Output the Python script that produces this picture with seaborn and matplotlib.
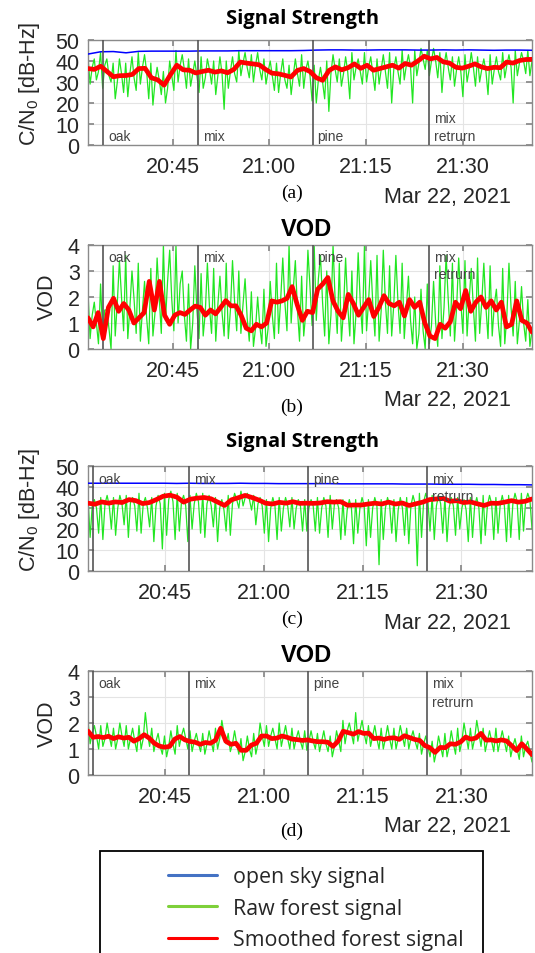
import numpy as np
import pandas as pd
import matplotlib
matplotlib.use("Agg")
import matplotlib.pyplot as plt
import matplotlib.dates as mdates
import matplotlib.transforms as mtransforms
from matplotlib.lines import Line2D
from matplotlib.patches import Rectangle
import seaborn as sns

# ---------------- data ----------------
day = "2021-03-22 "
range_ab = (day + "20:31:54", day + "21:40:42")
range_cd = (day + "20:33:20", day + "21:40:42")
segments_ab = [day + "20:34:18", day + "20:48:54", day + "21:06:42", day + "21:24:48"]
segments_cd = [day + "20:34:06", day + "20:48:42", day + "21:06:42", day + "21:24:42"]
segment_names = ["oak", "mix", "pine", "mix\nretrurn"]
xtick_times = [day + "20:45", day + "21:00", day + "21:15", day + "21:30"]
xtick_labels = ["20:45", "21:00", "21:15", "21:30"]
cn0_ticks = [0, 10, 20, 30, 40, 50]
vod_ticks = [0, 1, 2, 3, 4]

# (a) signal strength, first run
open_a = [43.3, 44.4, 44.5, 43.9, 44.6, 44.7, 44.7, 44.7, 44.7, 44.8, 44.8, 44.8,
          44.9, 44.9, 44.9, 44.9, 44.9, 45.0, 45.2, 45.3, 45.3, 45.2, 45.2, 45.3,
          45.3, 45.3, 45.2, 45.2, 45.3, 45.2, 45.3, 45.2, 45.1, 45.2, 45.2, 45.1]
raw_a = [42, 29, 37, 41, 31, 35, 44, 27, 38, 41, 33, 30, 39, 22, 30, 41, 34, 25,
         39, 23, 34, 42, 32, 26, 44, 29, 37, 43, 35, 22, 39, 19, 30, 37, 31, 24,
         35, 20, 27, 40, 33, 26, 45, 30, 38, 43, 36, 27, 41, 28, 34, 40, 33, 25,
         42, 27, 32, 41, 36, 29, 40, 24, 33, 42, 34, 17, 40, 27, 35, 42, 34, 30,
         45, 33, 39, 44, 37, 32, 43, 30, 38, 44, 36, 31, 41, 29, 35, 40, 33, 26,
         39, 25, 34, 41, 31, 27, 38, 24, 33, 41, 34, 28, 43, 27, 36, 40, 33, 21,
         38, 20, 31, 37, 30, 22, 40, 16, 34, 43, 36, 30, 41, 28, 34, 42, 35, 22,
         44, 31, 37, 41, 35, 29, 44, 30, 37, 42, 34, 26, 41, 29, 36, 43, 35, 27,
         44, 20, 36, 42, 35, 29, 45, 31, 38, 43, 37, 20, 45, 33, 39, 46, 41, 36,
         45, 33, 40, 46, 40, 32, 44, 25, 38, 44, 37, 31, 42, 28, 36, 42, 35, 23,
         43, 30, 36, 44, 37, 28, 42, 30, 36, 41, 35, 24, 43, 29, 36, 42, 35, 31,
         44, 32, 38, 43, 37, 20, 45, 33, 39, 44, 40, 34, 45, 33, 40]
smooth_a = [36.4, 36.0, 37.5, 35.0, 32.5, 33.0, 33.1, 33.6, 36.4, 36.5, 32.0, 31.0,
            28.5, 33.5, 38.0, 35.8, 35.6, 34.3, 35.0, 35.6, 34.7, 35.3, 34.4, 36.0,
            39.5, 39.0, 38.6, 38.2, 36.0, 34.2, 33.9, 33.2, 32.4, 35.5, 36.4, 35.0,
            32.0, 30.8, 35.5, 37.2, 35.8, 36.8, 38.6, 36.5, 38.0, 35.6, 36.4, 37.2,
            38.0, 36.6, 38.8, 38.0, 40.0, 42.3, 41.0, 41.7, 39.6, 39.0, 37.0, 36.6,
            37.5, 38.6, 37.2, 36.4, 37.0, 36.8, 39.5, 39.0, 40.2, 40.7, 40.8]

# (b) VOD, first run
raw_b = [2.2, 0.4, 1.3, 1.8, 1.0, 0.2, 2.5, 0.6, 1.5, 1.5, 0.8, 0.0, 3.2, 0.5, 1.8,
         3.4, 2.0, 0.7, 3.6, 0.4, 1.6, 3.0, 1.9, 0.6, 3.3, 0.3, 1.5, 2.6, 1.2, 0.2,
         3.1, 0.5, 1.4, 3.5, 2.0, 0.6, 4.0, 1.1, 2.6, 3.8, 1.9, 0.7, 4.0, 1.0, 2.5,
         3.0, 1.3, 0.3, 2.5, 0.0, 1.0, 3.2, 1.5, 0.4, 2.9, 0.5, 1.4, 3.3, 1.6, 0.6,
         3.1, 0.3, 1.7, 2.8, 1.4, 0.5, 3.3, 0.4, 1.5, 3.4, 1.8, 0.7, 3.0, 0.6, 1.7,
         2.7, 1.2, 0.3, 2.2, 0.1, 0.8, 2.0, 0.9, 0.2, 2.3, 0.1, 0.8, 2.6, 1.3, 0.4,
         3.3, 0.6, 1.9, 3.5, 1.8, 0.7, 4.0, 1.0, 2.3, 3.4, 1.5, 0.3, 2.8, 0.5, 1.4,
         3.8, 2.4, 0.9, 4.0, 1.1, 2.7, 3.6, 1.8, 0.5, 3.0, 0.2, 1.3, 4.0, 1.9, 0.6,
         3.3, 0.3, 1.5, 3.5, 1.7, 0.5, 3.0, 0.2, 1.4, 3.7, 1.8, 0.6, 4.0, 0.7, 1.9,
         3.4, 1.7, 0.5, 3.6, 0.3, 1.5, 3.8, 1.8, 0.6, 3.2, 0.5, 1.7, 3.6, 1.8, 0.6,
         3.3, 0.4, 1.6, 2.8, 1.1, 0.2, 2.0, 0.0, 0.6, 2.3, 0.7, 0.0, 2.5, 0.2, 0.9,
         2.6, 1.0, 0.1, 3.2, 0.4, 1.6, 3.6, 1.9, 0.5, 3.3, 0.3, 1.6, 3.5, 1.8, 0.6,
         3.4, 0.5, 1.9, 3.1, 1.6, 0.3, 3.5, 0.6, 1.8, 3.3, 1.6, 0.4, 3.2, 0.5, 1.7,
         2.3, 0.9, 0.1, 3.1, 0.2, 1.3, 3.3, 1.6, 0.5, 2.6, 0.2, 1.1, 2.4, 1.0, 0.3,
         1.9, 0.1, 0.7]
smooth_b = [1.2, 0.85, 1.4, 0.4, 1.6, 1.95, 1.45, 1.75, 1.5, 1.0, 1.2, 1.4, 2.6, 1.5,
            2.6, 1.3, 0.95, 1.3, 1.4, 1.33, 1.5, 1.65, 1.6, 1.3, 1.5, 1.35, 1.6, 1.86,
            1.66, 1.66, 1.3, 0.8, 0.7, 0.95, 0.85, 1.0, 1.85, 1.8, 1.85, 1.95, 2.4, 1.7,
            1.1, 1.45, 1.4, 2.3, 2.5, 2.75, 1.85, 1.45, 1.2, 2.1, 1.75, 1.3, 1.6, 1.9,
            1.25, 1.6, 2.05, 1.75, 1.66, 1.8, 1.27, 1.9, 1.6, 1.8, 1.0, 0.5, 0.4, 0.95,
            0.8, 1.05, 1.8, 1.55, 2.25, 1.45, 1.8, 2.0, 1.6, 1.85, 1.5, 1.8, 0.85, 0.95,
            1.85, 1.1, 1.0, 0.65]

# (c) signal strength, second run
open_c = [41.8, 41.8, 41.8, 41.8, 41.8, 41.8, 41.8, 41.7, 41.8, 41.7, 41.7, 41.7,
          41.8, 41.7, 41.7, 41.6, 41.6, 41.6, 41.6, 41.6, 41.5, 41.5, 41.5, 41.5,
          41.5, 41.4, 41.4, 41.4, 41.3, 41.3, 41.3, 41.2, 41.2, 41.1, 41.1, 41.0]
raw_c = [35, 16, 31, 34, 30, 18, 35, 15, 32, 36, 31, 20, 35, 17, 30, 36, 32, 22,
         36, 16, 33, 35, 31, 19, 37, 18, 32, 35, 30, 21, 35, 14, 31, 36, 32, 10.5,
         37, 17, 34, 38, 33, 15, 37, 19, 33, 36, 31, 14, 36, 20, 32, 37, 33, 18,
         37, 16, 32, 36, 31, 21, 35, 14, 30, 34, 29, 19, 36, 17, 32, 37, 34, 30,
         38, 31, 35, 37, 34, 29, 36, 22, 32, 35, 31, 18, 34, 14, 30, 35, 31, 15,
         35, 19, 30, 35, 31, 21, 35, 20, 30, 34, 31, 19, 34, 19, 30, 34, 31, 19,
         35, 18, 30, 35, 31, 16, 36, 20, 32, 34, 30, 15, 34, 17, 29, 34, 30, 13,
         34, 18, 30, 35, 31, 12, 34, 16, 30, 35, 31, 3, 34, 15, 30, 35, 31, 18,
         34, 14, 29, 35, 30, 17, 35, 13, 31, 36, 32, 2.5, 37, 16, 33, 37, 33, 19,
         36, 15, 31, 36, 32, 18, 35, 14, 30, 35, 31, 17, 35, 20, 30, 34, 29, 14,
         35, 16, 31, 35, 30, 13, 36, 17, 31, 36, 32, 15, 35, 18, 31, 36, 31, 14,
         36, 16, 32, 37, 33, 15, 37, 19, 33, 37, 34, 20]
smooth_c = [32.3, 31.8, 32.9, 32.3, 32.9, 32.6, 34.0, 33.5, 32.1, 32.6, 34.0, 35.6,
            36.1, 35.2, 32.8, 34.2, 34.7, 35.0, 34.4, 32.8, 31.2, 33.9, 34.9, 36.0,
            35.0, 33.8, 32.3, 31.9, 32.7, 32.3, 33.0, 32.2, 32.3, 32.2, 32.4, 33.0,
            32.8, 33.0, 31.3, 31.4, 31.4, 31.9, 32.3, 31.9, 32.8, 31.9, 32.4, 31.2,
            32.0, 32.8, 34.0, 34.3, 34.6, 33.2, 33.5, 32.6, 32.9, 32.0, 31.2, 32.3,
            32.2, 32.8, 33.5, 32.8, 33.2, 34.3]

# (d) VOD, second run
raw_d = [2.1, 1.2, 1.6, 1.9, 1.5, 1.0, 1.9, 1.1, 1.4, 2.0, 1.5, 1.1, 1.8, 1.0, 1.4,
         2.0, 1.5, 1.1, 1.9, 1.0, 1.4, 1.8, 1.3, 0.9, 1.9, 1.0, 1.4, 2.4, 1.6, 1.1,
         1.8, 0.9, 1.3, 1.6, 1.1, 0.8, 1.5, 0.7, 1.1, 1.7, 1.2, 0.8, 1.9, 1.1, 1.5,
         1.8, 1.4, 1.0, 1.7, 0.9, 1.3, 1.6, 1.2, 0.9, 1.6, 0.8, 1.2, 1.7, 1.3, 0.9,
         1.8, 1.0, 1.4, 2.1, 1.6, 1.2, 1.6, 0.9, 1.2, 1.7, 1.2, 0.8, 1.4, 0.55, 0.9,
         1.5, 1.0, 0.7, 1.6, 0.8, 1.2, 2.0, 1.5, 1.1, 1.9, 1.1, 1.5, 1.8, 1.4, 1.0,
         2.0, 1.1, 1.5, 1.9, 1.4, 1.0, 1.8, 1.0, 1.4, 1.7, 1.3, 1.0, 1.7, 0.95, 1.3,
         1.7, 1.3, 1.0, 1.6, 0.9, 1.3, 1.7, 1.2, 0.9, 1.5, 0.7, 1.1, 1.7, 1.3, 0.9,
         2.1, 1.2, 1.7, 2.0, 1.6, 1.2, 2.4, 1.3, 1.7, 2.1, 1.6, 1.2, 1.9, 1.1, 1.5,
         1.9, 1.4, 1.0, 1.8, 1.0, 1.4, 1.9, 1.4, 1.0, 1.8, 1.0, 1.4, 1.9, 1.5, 1.1,
         1.8, 1.0, 1.4, 1.7, 1.3, 1.0, 1.6, 0.8, 1.2, 1.5, 1.1, 0.7, 1.3, 0.5, 0.9,
         1.5, 1.1, 0.7, 1.6, 0.7, 1.1, 1.7, 1.2, 0.8, 1.8, 0.9, 1.3, 2.0, 1.5, 1.0,
         1.8, 1.0, 1.4, 2.1, 1.6, 1.1, 1.8, 0.9, 1.3, 1.7, 1.3, 0.9, 1.8, 0.9, 1.3,
         1.7, 1.3, 0.9, 1.5, 0.7, 1.1, 1.4, 1.0, 0.6, 1.5, 0.7, 1.1, 1.3, 0.9, 0.5]
smooth_d = [1.69, 1.45, 1.48, 1.44, 1.49, 1.40, 1.47, 1.42, 1.45, 1.30, 1.40, 1.55,
            1.42, 1.22, 1.11, 1.07, 1.10, 1.38, 1.48, 1.35, 1.29, 1.26, 1.18, 1.25,
            1.22, 1.34, 1.80, 1.30, 1.18, 1.22, 0.95, 0.95, 1.15, 1.22, 1.50, 1.50,
            1.40, 1.42, 1.50, 1.45, 1.38, 1.36, 1.33, 1.35, 1.31, 1.28, 1.28, 1.26,
            1.10, 1.30, 1.68, 1.63, 1.57, 1.67, 1.60, 1.61, 1.40, 1.42, 1.37, 1.42,
            1.43, 1.37, 1.51, 1.44, 1.37, 1.33, 1.13, 1.05, 0.87, 1.06, 1.05, 1.20,
            1.18, 1.27, 1.46, 1.38, 1.42, 1.60, 1.34, 1.35, 1.31, 1.35, 1.31, 1.13,
            0.94, 1.20, 1.00, 0.78]

legend_labels = ["open sky signal", "Raw forest signal", "Smoothed forest signal"]
legend_colors = ["#4472c4", "#7ed03a", "#ff0000"]

# ---------------- style ----------------
sns.set_theme(style="white")
plt.rcParams["font.family"] = ["Liberation Sans", "DejaVu Sans"]
plt.rcParams["mathtext.default"] = "regular"

W, H = 535, 954
fig = plt.figure(figsize=(W / 100, H / 100), dpi=100)

AX_L, AX_R = 88, 532
GREEN, RED, BLUE = "#22e622", "#ff0000", "#0000ff"
TXT = "#262626"
SEG_TXT = "#444444"


def px_axes(top, bottom):
    return fig.add_axes([AX_L / W, 1 - bottom / H, (AX_R - AX_L) / W, (bottom - top) / H])


def series(ax, rng, vals, color, lw, z):
    t = pd.date_range(rng[0], rng[1], periods=len(vals))
    sns.lineplot(x=t, y=vals, ax=ax, color=color, linewidth=lw, estimator=None,
                 sort=False, legend=False, zorder=z)


def panel(top, bottom, rng, segs, raw, smooth, openv, yticks, ylabel,
          ylabel_xy, line_ys):
    ax = px_axes(top, bottom)
    if openv is not None:
        series(ax, rng, openv, BLUE, 1.1, 3)
    series(ax, rng, raw, GREEN, 0.9, 2)
    series(ax, rng, smooth, RED, 3.4, 5)
    trans = (mtransforms.blended_transform_factory(ax.transData, ax.transAxes)
             + mtransforms.ScaledTranslation(5 / 100, 0, fig.dpi_scale_trans))
    for s, name in zip(segs, segment_names):
        xs = mdates.date2num(pd.Timestamp(s))
        ax.axvline(xs, color="#555555", lw=1.2, zorder=4)
        lines = name.split("\n")
        ys = line_ys[len(lines) - 1]
        for txt, yy in zip(lines, ys):
            ax.text(xs, yy, txt, transform=trans, fontsize=10, color=SEG_TXT,
                    ha="left", va="center", zorder=6)
    ax.set_xlim(pd.Timestamp(rng[0]), pd.Timestamp(rng[1]))
    ax.set_ylim(yticks[0], yticks[-1])
    ax.set_yticks(yticks)
    ax.set_xticks([mdates.date2num(pd.Timestamp(x)) for x in xtick_times])
    ax.set_xticklabels(xtick_labels)
    ax.grid(True, color="#e4e4e4", lw=0.8)
    ax.set_axisbelow(True)
    ax.tick_params(axis="both", direction="in", length=4, color="#888888",
                   labelcolor=TXT, labelsize=15.5, top=True, right=True,
                   bottom=True, left=True)
    ax.tick_params(axis="x", pad=8)
    ax.tick_params(axis="y", pad=6)
    for sp in ax.spines.values():
        sp.set_color("#8a8a8a")
        sp.set_linewidth(1.0)
    ax.set_xlabel("")
    ax.set_ylabel(ylabel, fontsize=15.5, color=TXT)
    ax.yaxis.label.set_rotation_mode("default")
    ax.yaxis.label.set_verticalalignment("center")
    ax.yaxis.label.set_horizontalalignment("center")
    ax.yaxis.set_label_coords((ylabel_xy[0] - AX_L) / (AX_R - AX_L),
                              (bottom - ylabel_xy[1]) / (bottom - top))
    return ax


cn0_label = "C/N$_0$ [dB-Hz]"

ax_a = panel(41, 146, range_ab, segments_ab, raw_a, smooth_a, open_a, cn0_ticks,
             cn0_label, (29, 84), [[0.085], [0.26, 0.085]])
ax_b = panel(246, 350, range_ab, segments_ab, raw_b, smooth_b, None, vod_ticks,
             "VOD", (47, 297), [[0.885], [0.885, 0.72]])
ax_c = panel(467, 572, range_cd, segments_cd, raw_c, smooth_c, open_c, cn0_ticks,
             cn0_label, (29, 510), [[0.88], [0.88, 0.71]])
ax_d = panel(672, 776, range_cd, segments_cd, raw_d, smooth_d, None, vod_ticks,
             "VOD", (47, 724), [[0.88], [0.88, 0.70]])


def ftext(x, y, s, **kw):
    fig.text(x / W, 1 - y / H, s, **kw)


# titles
for ytitle in (19, 442):
    ftext(303, ytitle, "Signal Strength", fontsize=14.5, fontweight="bold",
          family=["Open Sans", "DejaVu Sans"], ha="center", va="center", color="black")
for ytitle in (229, 655):
    ftext(306, ytitle, "VOD", fontsize=17, fontweight="bold", ha="center",
          va="center", color="black")

# captions and date labels
for cap, ycap, ydate in [("(a)", 193, 198), ("(b)", 407, 401), ("(c)", 619, 624),
                         ("(d)", 831, 827)]:
    ftext(292, ycap, cap, fontsize=14, family=["Liberation Serif", "DejaVu Serif"],
          ha="center", va="center", color="black")
    ftext(511, ydate, "Mar 22, 2021", fontsize=15.5, ha="right", va="center", color=TXT)

# legend box (bottom edge runs past the image)
fig.patches.append(Rectangle((100 / W, -0.05), (483 - 100) / W, (954 - 852) / H + 0.05,
                             transform=fig.transFigure, fill=False, edgecolor="black",
                             lw=1.3, clip_on=False))
handles = [Line2D([], [], color=c, lw=2.2) for c in legend_colors]
fig.legend(handles, legend_labels, loc="upper left",
           bbox_to_anchor=(168 / W, 1 - 867 / H), frameon=False,
           prop={"family": ["Open Sans", "DejaVu Sans"], "size": 15.4},
           handlelength=2.3, handletextpad=0.75, labelspacing=0.5,
           borderaxespad=0, borderpad=0)

fig.savefig("out.png", dpi=100)
